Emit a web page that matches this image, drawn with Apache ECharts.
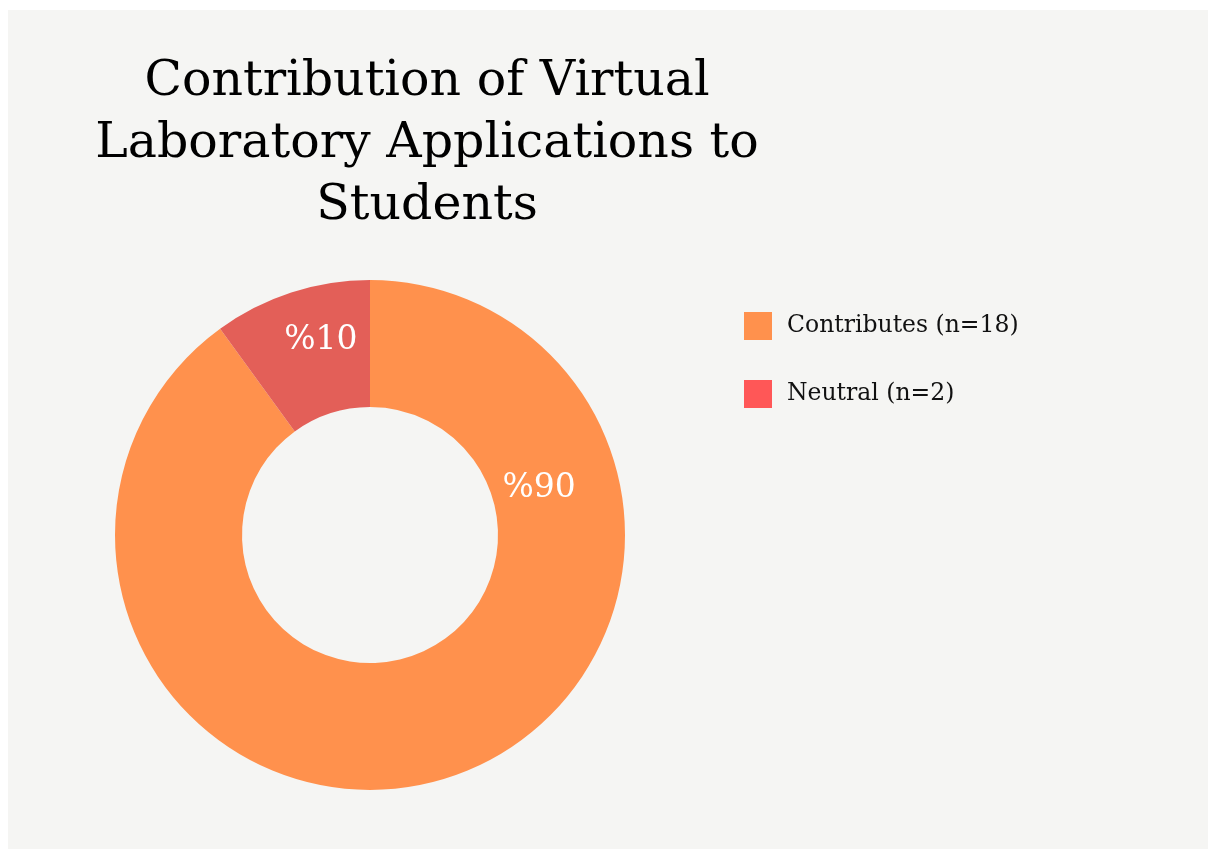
<!DOCTYPE html>
<html>
<head>
<meta charset="utf-8">
<script src="https://cdn.jsdelivr.net/npm/echarts@6/dist/echarts.min.js"></script>
<style>
  html, body { margin: 0; padding: 0; background: #ffffff; }
  #chart { position: absolute; left: 8px; top: 10px; width: 1200px; height: 839px; }
</style>
</head>
<body>
<div id="chart"></div>
<script>
// data
const categories = ['Contributes (n=18)', 'Neutral (n=2)']
const values = [18, 2]
const sliceColors = ['#ff914d', '#e35f58']
const legendColors = ['#ff914d', '#ff5757']
const labelTexts = ['%90', '%10']

// label nudges (the big slice label sits near the right side, not at the slice middle)
const labelOffsets = [[109, -232], [11, -10]]

const chart = echarts.init(document.getElementById('chart'))

const option = {
  backgroundColor: '#f5f5f3',
  title: {
    text: 'Contribution of Virtual\nLaboratory Applications to\nStudents',
    left: 414,
    top: 36,
    textAlign: 'center',
    textStyle: {
      fontFamily: 'DejaVu Serif',
      fontSize: 49,
      fontWeight: 'normal',
      lineHeight: 62,
      color: '#000000'
    }
  },
  legend: {
    orient: 'vertical',
    left: 731,
    top: 297,
    itemWidth: 28,
    itemHeight: 28,
    itemGap: 40,
    icon: 'rect',
    textStyle: {
      fontFamily: 'DejaVu Serif',
      fontSize: 23.5,
      color: '#111111',
      padding: [0, 0, 0, 10]
    },
    data: categories.map((c, i) => ({ name: c, itemStyle: { color: legendColors[i] } }))
  },
  series: [{
    type: 'pie',
    center: [362, 525],
    radius: [128, 255],
    startAngle: 90,
    clockwise: true,
    avoidLabelOverlap: false,
    emphasis: { disabled: true },
    label: {
      show: true,
      position: 'inside',
      color: '#ffffff',
      fontFamily: 'DejaVu Serif',
      fontSize: 33
    },
    labelLine: { show: false },
    data: categories.map((c, i) => ({
      name: c,
      value: values[i],
      itemStyle: { color: sliceColors[i] },
      label: { formatter: labelTexts[i], offset: labelOffsets[i] }
    }))
  }]
}

chart.setOption(option)
</script>
</body>
</html>
